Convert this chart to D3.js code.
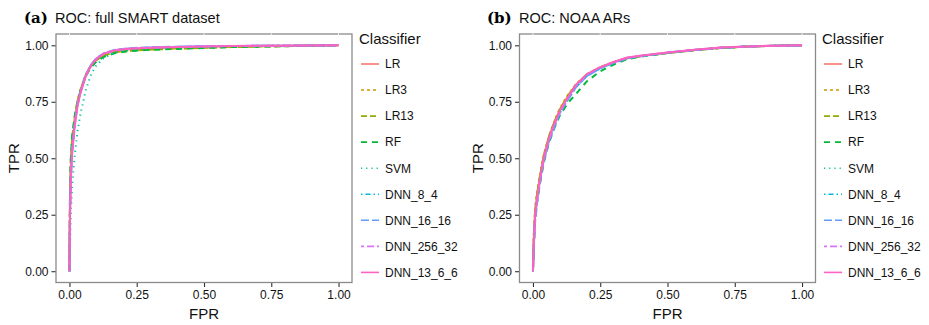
<!DOCTYPE html>
<html>
<head>
<meta charset="utf-8">
<script src="https://cdn.jsdelivr.net/npm/d3@7"></script>
<style>
  body { margin: 0; background: #fff; }
  text { font-family: "Liberation Sans", Arial, sans-serif; }
</style>
</head>
<body>
<div id="chart"></div>
<script>
// Classifiers and styles in legend order
var classifiers = ["LR", "LR3", "LR13", "RF", "SVM", "DNN_8_4", "DNN_16_16", "DNN_256_32", "DNN_13_6_6"];
var colors = ["#F8766D", "#D39200", "#93AA00", "#00BA38", "#00C19F", "#00B9E3", "#619CFF", "#DB72FB", "#FF61C3"];
var dashes = [null, "3,3", "6,3", "6,5", "1.2,4", "1.5,3,5,3", "8,3", "3,3,7,3", null];

var ticks = [0, 0.25, 0.5, 0.75, 1];

// (a) full SMART dataset
var fprA = [0, 0.002, 0.005, 0.01, 0.02, 0.03, 0.04, 0.06, 0.08, 0.1, 0.13, 0.17, 0.22, 0.3, 0.4, 0.5, 0.6, 0.75, 0.9, 1];
var tprA_LR = [0, 0.30, 0.46, 0.56, 0.67, 0.74, 0.79, 0.865, 0.91, 0.938, 0.962, 0.976, 0.983, 0.988, 0.991, 0.994, 0.996, 0.998, 0.999, 1];
var tprA_LR3 = [0, 0.33, 0.48, 0.58, 0.68, 0.75, 0.80, 0.87, 0.91, 0.936, 0.958, 0.970, 0.977, 0.982, 0.986, 0.990, 0.993, 0.996, 0.998, 1];
var tprA_LR13 = [0, 0.34, 0.49, 0.59, 0.69, 0.755, 0.80, 0.868, 0.908, 0.934, 0.956, 0.969, 0.976, 0.981, 0.985, 0.989, 0.992, 0.995, 0.998, 1];
var tprA_RF = [0, 0.36, 0.50, 0.60, 0.69, 0.75, 0.795, 0.862, 0.902, 0.928, 0.950, 0.966, 0.974, 0.980, 0.984, 0.988, 0.992, 0.995, 0.998, 1];
var tprA_SVM = [0, 0.12, 0.25, 0.38, 0.52, 0.62, 0.69, 0.80, 0.87, 0.912, 0.946, 0.968, 0.980, 0.987, 0.991, 0.994, 0.996, 0.998, 0.999, 1];
var tprA_DNN_8_4 = [0, 0.26, 0.42, 0.54, 0.66, 0.74, 0.79, 0.866, 0.912, 0.940, 0.964, 0.978, 0.985, 0.990, 0.993, 0.995, 0.997, 0.998, 0.999, 1];
var tprA_DNN_16_16 = [0, 0.25, 0.41, 0.53, 0.655, 0.735, 0.79, 0.868, 0.914, 0.943, 0.966, 0.980, 0.987, 0.991, 0.994, 0.996, 0.997, 0.998, 0.999, 1];
var tprA_DNN_256_32 = [0, 0.27, 0.43, 0.54, 0.66, 0.74, 0.79, 0.865, 0.912, 0.941, 0.965, 0.979, 0.986, 0.990, 0.993, 0.995, 0.997, 0.998, 0.999, 1];
var tprA_DNN_13_6_6 = [0, 0.24, 0.40, 0.52, 0.645, 0.73, 0.785, 0.862, 0.91, 0.94, 0.964, 0.978, 0.985, 0.989, 0.992, 0.995, 0.997, 0.998, 0.999, 1];

// (b) NOAA ARs
var fprB = [0, 0.003, 0.008, 0.015, 0.025, 0.04, 0.06, 0.08, 0.1, 0.13, 0.16, 0.2, 0.25, 0.3, 0.35, 0.4, 0.5, 0.6, 0.7, 0.8, 0.9, 1];
var tprB_LR = [0, 0.14, 0.26, 0.33, 0.41, 0.51, 0.595, 0.66, 0.715, 0.775, 0.825, 0.87, 0.902, 0.925, 0.944, 0.953, 0.967, 0.979, 0.989, 0.995, 0.998, 1];
var tprB_LR3 = [0, 0.16, 0.28, 0.35, 0.42, 0.515, 0.60, 0.665, 0.72, 0.78, 0.828, 0.872, 0.903, 0.926, 0.943, 0.952, 0.966, 0.978, 0.988, 0.994, 0.998, 1];
var tprB_LR13 = [0, 0.15, 0.27, 0.34, 0.415, 0.51, 0.598, 0.662, 0.716, 0.776, 0.826, 0.871, 0.902, 0.925, 0.943, 0.952, 0.966, 0.978, 0.988, 0.994, 0.998, 1];
var tprB_RF = [0, 0.10, 0.22, 0.30, 0.38, 0.48, 0.57, 0.635, 0.69, 0.745, 0.785, 0.84, 0.885, 0.915, 0.938, 0.95, 0.966, 0.979, 0.989, 0.995, 0.998, 1];
var tprB_SVM = [0, 0.13, 0.25, 0.32, 0.40, 0.50, 0.585, 0.65, 0.705, 0.765, 0.818, 0.866, 0.9, 0.924, 0.944, 0.953, 0.967, 0.979, 0.989, 0.995, 0.998, 1];
var tprB_DNN_8_4 = [0, 0.11, 0.23, 0.31, 0.39, 0.49, 0.58, 0.645, 0.70, 0.762, 0.815, 0.865, 0.898, 0.923, 0.943, 0.952, 0.967, 0.979, 0.989, 0.995, 0.998, 1];
var tprB_DNN_16_16 = [0, 0.10, 0.22, 0.30, 0.385, 0.485, 0.575, 0.64, 0.70, 0.76, 0.815, 0.864, 0.898, 0.922, 0.942, 0.952, 0.967, 0.979, 0.989, 0.995, 0.998, 1];
var tprB_DNN_256_32 = [0, 0.11, 0.24, 0.31, 0.395, 0.495, 0.585, 0.65, 0.705, 0.768, 0.822, 0.87, 0.902, 0.925, 0.945, 0.954, 0.968, 0.98, 0.99, 0.995, 0.998, 1];
var tprB_DNN_13_6_6 = [0, 0.12, 0.25, 0.32, 0.40, 0.50, 0.59, 0.655, 0.71, 0.77, 0.825, 0.872, 0.903, 0.926, 0.946, 0.954, 0.968, 0.98, 0.99, 0.995, 0.998, 1];

var svg = d3.select("#chart").append("svg")
    .attr("width", 929)
    .attr("height", 325);

function drawPanel(p) {
    var x = d3.scaleLinear().domain([-0.05, 1.05]).range([p.left, p.right]);
    var y = d3.scaleLinear().domain([-0.05, 1.05]).range([282.5, 34]);
    var g = svg.append("g");

    // title
    g.append("text")
        .attr("x", p.letterX).attr("y", 22.5)
        .style("font-family", "'DejaVu Serif', 'Liberation Serif', serif")
        .style("font-weight", "bold")
        .style("font-size", "15px")
        .text(p.letter);
    g.append("text")
        .attr("x", p.titleX).attr("y", 22.5)
        .style("font-size", "14.5px")
        .attr("fill", "#111")
        .text(p.title);

    // curves
    var line = d3.line()
        .x(function (d) { return x(d[0]); })
        .y(function (d) { return y(d[1]); });

    p.series.forEach(function (tpr, i) {
        var pts = p.fpr.map(function (f, j) { return [f, tpr[j]]; });
        g.append("path")
            .datum(pts)
            .attr("d", line)
            .attr("fill", "none")
            .attr("stroke", colors[i])
            .attr("stroke-width", 2)
            .attr("stroke-dasharray", dashes[i]);
    });

    // panel border
    g.append("rect")
        .attr("x", p.left).attr("y", 34)
        .attr("width", p.right - p.left).attr("height", 248.5)
        .attr("fill", "none")
        .attr("stroke", "#8a8a8a")
        .attr("stroke-width", 1.3);

    // faint white marks on top border
    g.selectAll(".topmark").data(ticks).enter().append("line")
        .attr("x1", function (d) { return x(d); })
        .attr("x2", function (d) { return x(d); })
        .attr("y1", 33.5).attr("y2", 35)
        .attr("stroke", "#fff").attr("stroke-width", 1);

    // axes
    var bottomAxis = d3.axisBottom(x).tickValues(ticks).tickSize(4).tickPadding(3)
        .tickFormat(d3.format(".2f"));
    var leftAxis = d3.axisLeft(y).tickValues(ticks).tickSize(4).tickPadding(3)
        .tickFormat(d3.format(".2f"));

    var xa = g.append("g").attr("transform", "translate(0,283)").call(bottomAxis);
    var ya = g.append("g").attr("transform", "translate(" + (p.left - 0.5) + ",0)").call(leftAxis);
    [xa, ya].forEach(function (a) {
        a.select(".domain").remove();
        a.selectAll(".tick line").attr("stroke", "#333").attr("stroke-width", 1.1);
        a.selectAll(".tick text")
            .style("font-family", "'Liberation Sans', Arial, sans-serif")
            .style("font-size", "12px")
            .attr("fill", "#111");
    });

    // axis titles
    g.append("text")
        .attr("x", x(0.5)).attr("y", 319)
        .attr("text-anchor", "middle")
        .style("font-size", "15px")
        .attr("fill", "#111")
        .text("FPR");
    g.append("text")
        .attr("transform", "translate(" + p.ylabX + "," + y(0.5) + ") rotate(-90)")
        .attr("text-anchor", "middle")
        .style("font-size", "15px")
        .attr("fill", "#111")
        .text("TPR");

    // legend
    var lg = g.append("g");
    lg.append("text")
        .attr("x", p.legX).attr("y", 44)
        .style("font-size", "15px")
        .attr("fill", "#111")
        .text("Classifier");
    classifiers.forEach(function (c, i) {
        var yy = 68.3 + i * 26.05;
        lg.append("line")
            .attr("x1", p.legX + 2).attr("x2", p.legX + 20)
            .attr("y1", yy - 4.3).attr("y2", yy - 4.3)
            .attr("stroke", colors[i])
            .attr("stroke-width", 1.6)
            .attr("stroke-dasharray", dashes[i]);
        lg.append("text")
            .attr("x", p.legX + 26).attr("y", yy)
            .style("font-size", "12px")
            .attr("fill", "#111")
            .text(c);
    });
}

drawPanel({
    left: 56, right: 352, letter: "(a)", letterX: 24, titleX: 55,
    title: "ROC: full SMART dataset", ylabX: 19, legX: 359,
    fpr: fprA,
    series: [tprA_LR, tprA_LR3, tprA_LR13, tprA_RF, tprA_SVM, tprA_DNN_8_4, tprA_DNN_16_16, tprA_DNN_256_32, tprA_DNN_13_6_6]
});

drawPanel({
    left: 519.5, right: 815.5, letter: "(b)", letterX: 487, titleX: 519,
    title: "ROC: NOAA ARs", ylabX: 483, legX: 822,
    fpr: fprB,
    series: [tprB_LR, tprB_LR3, tprB_LR13, tprB_RF, tprB_SVM, tprB_DNN_8_4, tprB_DNN_16_16, tprB_DNN_256_32, tprB_DNN_13_6_6]
});
</script>
</body>
</html>
